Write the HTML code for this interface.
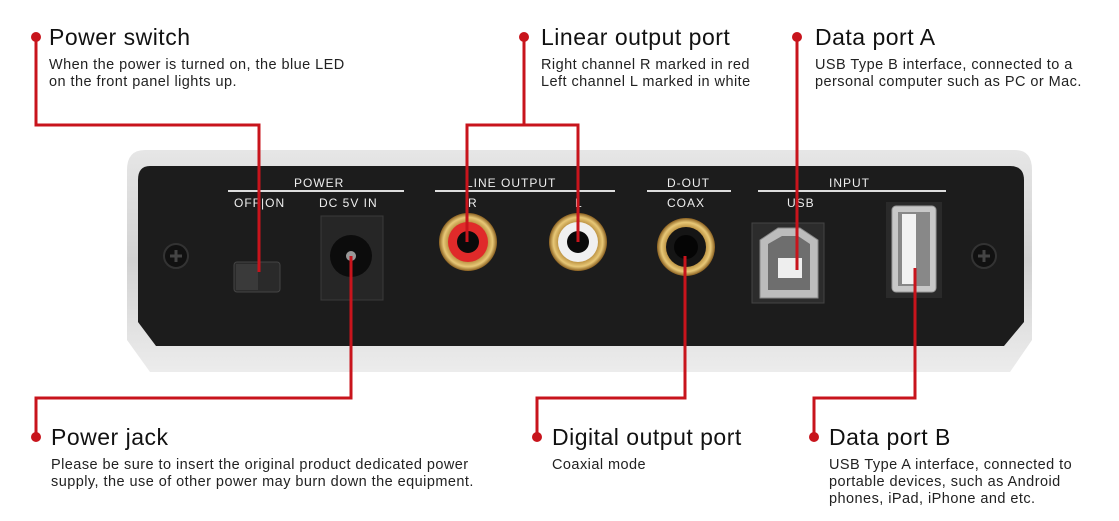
<!DOCTYPE html>
<html><head><meta charset="utf-8"><style>
html,body{margin:0;padding:0;background:#fff;}
svg{display:block;}
.t{font-family:"Liberation Sans",sans-serif;font-size:23px;fill:#111;letter-spacing:0.5px;}
.d{font-family:"Liberation Sans",sans-serif;font-size:14.5px;fill:#222;letter-spacing:0.45px;}
.l{font-family:"Liberation Sans",sans-serif;font-size:12px;fill:#eee;letter-spacing:1px;}
</style></head><body>
<svg width="1119" height="521" viewBox="0 0 1119 521" xmlns="http://www.w3.org/2000/svg">
<defs>
<linearGradient id="sil" x1="0" y1="0" x2="0" y2="1"><stop offset="0" stop-color="#e6e6e6"/><stop offset="0.5" stop-color="#d2d2d2"/><stop offset="1" stop-color="#ececec"/></linearGradient>
<radialGradient id="gold"><stop offset="0.6" stop-color="#a87a2a"/><stop offset="0.85" stop-color="#e8c877"/><stop offset="1" stop-color="#8a6020"/></radialGradient>
</defs>
<path d="M145,150 L1015,150 Q1032,150 1032,170 L1032,340 L1010,372 L150,372 L127,340 L127,170 Q127,150 145,150Z" fill="url(#sil)"/>
<path d="M150,166 L1010,166 Q1024,166 1024,180 L1024,322 L1004,346 L156,346 L138,322 L138,180 Q138,166 150,166Z" fill="#1c1c1c"/>
<circle cx="176" cy="256" r="12" fill="#111" stroke="#333" stroke-width="2"/><path d="M170,256h12M176,250v12" stroke="#444" stroke-width="3"/>
<circle cx="984" cy="256" r="12" fill="#111" stroke="#333" stroke-width="2"/><path d="M978,256h12M984,250v12" stroke="#444" stroke-width="3"/>
<text class="l" x="294" y="187">POWER</text>
<line x1="228" y1="191" x2="404" y2="191" stroke="#ddd" stroke-width="2"/>
<text class="l" x="234" y="207">OFF|ON</text>
<text class="l" x="319" y="207">DC 5V IN</text>
<text class="l" x="466" y="187">LINE OUTPUT</text>
<line x1="435" y1="191" x2="615" y2="191" stroke="#ddd" stroke-width="2"/>
<text class="l" x="468" y="207">R</text><text class="l" x="575" y="207">L</text>
<text class="l" x="667" y="187">D-OUT</text>
<line x1="647" y1="191" x2="731" y2="191" stroke="#ddd" stroke-width="2"/>
<text class="l" x="667" y="207">COAX</text>
<text class="l" x="829" y="187">INPUT</text>
<line x1="758" y1="191" x2="946" y2="191" stroke="#ddd" stroke-width="2"/>
<text class="l" x="787" y="207">USB</text>
<rect x="234" y="262" width="46" height="30" rx="3" fill="#2a2a2a" stroke="#444"/>
<rect x="236" y="264" width="22" height="26" fill="#3a3a3a"/>
<rect x="321" y="216" width="62" height="84" fill="#262626" stroke="#3a3a3a"/>
<circle cx="351" cy="256" r="21" fill="#0c0c0c"/><circle cx="351" cy="256" r="5" fill="#999"/>
<circle cx="468" cy="242" r="29" fill="url(#gold)"/><circle cx="468" cy="242" r="20" fill="#e02a2a"/><circle cx="468" cy="242" r="11" fill="#0a0a0a"/>
<circle cx="578" cy="242" r="29" fill="url(#gold)"/><circle cx="578" cy="242" r="20" fill="#f0f0f0"/><circle cx="578" cy="242" r="11" fill="#0a0a0a"/>
<circle cx="686" cy="247" r="29" fill="url(#gold)"/><circle cx="686" cy="247" r="20" fill="#151515"/><circle cx="686" cy="247" r="12" fill="#050505"/>
<rect x="752" y="223" width="72" height="80" fill="#2c2c2c" stroke="#444"/>
<path d="M760,240 L778,228 L800,228 L818,240 L818,298 L760,298Z" fill="#bcbcbc" stroke="#888"/>
<path d="M768,244 L782,236 L798,236 L810,244 L810,290 L768,290Z" fill="#6e6e6e"/>
<rect x="778" y="258" width="24" height="20" fill="#eee"/>
<rect x="886" y="202" width="56" height="96" fill="#2a2a2a"/>
<rect x="892" y="206" width="44" height="86" rx="4" fill="#c8c8c8" stroke="#999"/>
<rect x="898" y="212" width="32" height="74" fill="#888"/>
<rect x="902" y="214" width="14" height="70" fill="#f2f2f2"/>
<g stroke="#c8141c" stroke-width="3" fill="none">
<polyline points="36,37 36,125 259,125 259,272"/>
<polyline points="524,37 524,125"/>
<polyline points="467,242 467,125 578,125 578,242"/>
<polyline points="797,37 797,270"/>
<polyline points="36,437 36,398 351,398 351,256"/>
<polyline points="537,437 537,398 685,398 685,256"/>
<polyline points="814,437 814,398 915,398 915,268"/>
</g>
<g fill="#c8141c">
<circle cx="36" cy="37" r="5"/><circle cx="524" cy="37" r="5"/><circle cx="797" cy="37" r="5"/>
<circle cx="36" cy="437" r="5"/><circle cx="537" cy="437" r="5"/><circle cx="814" cy="437" r="5"/>
</g>
<text class="t" x="49" y="45">Power switch</text>
<text class="d" x="49" y="69">When the power is turned on, the blue LED</text>
<text class="d" x="49" y="86">on the front panel lights up.</text>
<text class="t" x="541" y="45">Linear output port</text>
<text class="d" x="541" y="69">Right channel R marked in red</text>
<text class="d" x="541" y="86">Left channel L marked in white</text>
<text class="t" x="815" y="45">Data port A</text>
<text class="d" x="815" y="69">USB Type B interface, connected to a</text>
<text class="d" x="815" y="86">personal computer such as PC or Mac.</text>
<text class="t" x="51" y="445">Power jack</text>
<text class="d" x="51" y="469">Please be sure to insert the original product dedicated power</text>
<text class="d" x="51" y="486">supply, the use of other power may burn down the equipment.</text>
<text class="t" x="552" y="445">Digital output port</text>
<text class="d" x="552" y="469">Coaxial mode</text>
<text class="t" x="829" y="445">Data port B</text>
<text class="d" x="829" y="469">USB Type A interface, connected to</text>
<text class="d" x="829" y="486">portable devices, such as Android</text>
<text class="d" x="829" y="503">phones, iPad, iPhone and etc.</text>
</svg>
</body></html>
